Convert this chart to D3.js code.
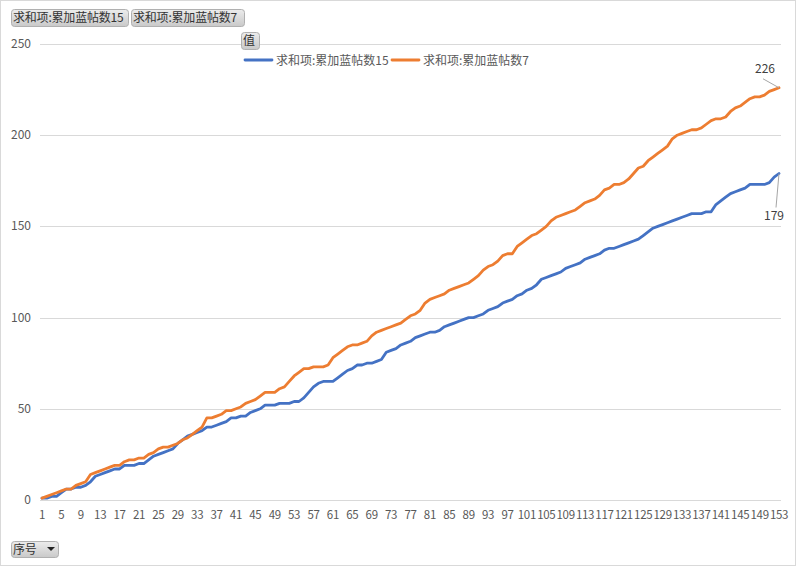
<!DOCTYPE html>
<html>
<head>
<meta charset="utf-8">
<script src="https://cdn.jsdelivr.net/npm/d3@7"></script>
<style>
  body { margin: 0; background: #fff; }
  svg { display: block; font-family: "Noto Sans CJK SC", "Noto Sans", sans-serif; }
</style>
</head>
<body>
<div id="chart"></div>
<script>
const seriesNames = ["求和项:累加蓝帖数15", "求和项:累加蓝帖数7"];
const seriesColors = ["#4472c4", "#ed7d31"];
const yTicks = [0, 50, 100, 150, 200, 250];

const blue15 = [
  1, 1, 2, 2, 4, 6, 6, 7, 7, 8, 10, 13, 14, 15, 16, 17, 17, 19, 19, 19,
  20, 20, 22, 24, 25, 26, 27, 28, 31, 33, 35, 36, 37, 38, 40, 40, 41, 42, 43, 45,
  45, 46, 46, 48, 49, 50, 52, 52, 52, 53, 53, 53, 54, 54, 56, 59, 62, 64, 65, 65,
  65, 67, 69, 71, 72, 74, 74, 75, 75, 76, 77, 81, 82, 83, 85, 86, 87, 89, 90, 91,
  92, 92, 93, 95, 96, 97, 98, 99, 100, 100, 101, 102, 104, 105, 106, 108, 109, 110, 112, 113,
  115, 116, 118, 121, 122, 123, 124, 125, 127, 128, 129, 130, 132, 133, 134, 135, 137, 138, 138, 139,
  140, 141, 142, 143, 145, 147, 149, 150, 151, 152, 153, 154, 155, 156, 157, 157, 157, 158, 158, 162,
  164, 166, 168, 169, 170, 171, 173, 173, 173, 173, 174, 177, 179
];

const orange7 = [
  1, 2, 3, 4, 5, 6, 6, 8, 9, 10, 14, 15, 16, 17, 18, 19, 19, 21, 22, 22,
  23, 23, 25, 26, 28, 29, 29, 30, 31, 33, 34, 36, 38, 40, 45, 45, 46, 47, 49, 49,
  50, 51, 53, 54, 55, 57, 59, 59, 59, 61, 62, 65, 68, 70, 72, 72, 73, 73, 73, 74,
  78, 80, 82, 84, 85, 85, 86, 87, 90, 92, 93, 94, 95, 96, 97, 99, 101, 102, 104, 108,
  110, 111, 112, 113, 115, 116, 117, 118, 119, 121, 123, 126, 128, 129, 131, 134, 135, 135, 139, 141,
  143, 145, 146, 148, 150, 153, 155, 156, 157, 158, 159, 161, 163, 164, 165, 167, 170, 171, 173, 173,
  174, 176, 179, 182, 183, 186, 188, 190, 192, 194, 198, 200, 201, 202, 203, 203, 204, 206, 208, 209,
  209, 210, 213, 215, 216, 218, 220, 221, 221, 222, 224, 225, 226
];

const categories = d3.range(1, blue15.length + 1);
const xTickLabels = categories.filter(d => (d - 1) % 4 === 0);

const width = 796, height = 566;
const svg = d3.select("#chart").append("svg")
  .attr("width", width)
  .attr("height", height);

svg.append("rect")
  .attr("x", 0.5).attr("y", 0.5)
  .attr("width", width - 1).attr("height", height - 1)
  .attr("fill", "#fff")
  .attr("stroke", "#d9d9d9");

const x = d3.scaleLinear().domain([1, categories.length]).range([42, 779]);
const y = d3.scaleLinear().domain([0, 250]).range([500, 44]);

// gridlines
svg.append("g")
  .selectAll("line")
  .data(yTicks)
  .join("line")
  .attr("x1", 40).attr("x2", 781)
  .attr("y1", d => Math.round(y(d)) + 0.5)
  .attr("y2", d => Math.round(y(d)) + 0.5)
  .attr("stroke", "#d9d9d9");

// y labels
svg.append("g")
  .selectAll("text")
  .data(yTicks)
  .join("text")
  .attr("x", 31)
  .attr("y", d => y(d) + 4)
  .attr("text-anchor", "end")
  .attr("font-size", 12)
  .attr("fill", "#595959")
  .text(d => d);

// x labels
svg.append("g")
  .selectAll("text")
  .data(xTickLabels)
  .join("text")
  .attr("x", d => x(d))
  .attr("y", 519)
  .attr("text-anchor", "middle")
  .attr("font-size", 11.5)
  .attr("letter-spacing", -0.3)
  .attr("fill", "#595959")
  .text(d => d);

const line = d3.line()
  .x((d, i) => x(categories[i]))
  .y(d => y(d));

[blue15, orange7].forEach((data, k) => {
  svg.append("path")
    .datum(data)
    .attr("fill", "none")
    .attr("stroke", seriesColors[k])
    .attr("stroke-width", 2.8)
    .attr("stroke-linejoin", "round")
    .attr("stroke-linecap", "round")
    .attr("d", line);
});

// data labels for last points
const lastI = categories.length - 1;
const lx = x(categories[lastI]);
const lo = y(orange7[lastI]);
const lb = y(blue15[lastI]);

svg.append("line")
  .attr("x1", lx).attr("y1", lo)
  .attr("x2", lx - 16).attr("y2", lo - 9)
  .attr("stroke", "#a6a6a6");
svg.append("text")
  .attr("x", lx - 14).attr("y", lo - 15)
  .attr("text-anchor", "middle")
  .attr("font-size", 12)
  .attr("fill", "#404040")
  .text(orange7[lastI]);

svg.append("line")
  .attr("x1", lx).attr("y1", lb)
  .attr("x2", lx - 3).attr("y2", lb + 34)
  .attr("stroke", "#a6a6a6");
svg.append("text")
  .attr("x", lx - 5).attr("y", lb + 46)
  .attr("text-anchor", "middle")
  .attr("font-size", 12)
  .attr("fill", "#404040")
  .text(blue15[lastI]);

// legend
const legend = svg.append("g");
const legendX = [245, 392];
seriesNames.forEach((name, k) => {
  legend.append("line")
    .attr("x1", legendX[k]).attr("x2", legendX[k] + 27)
    .attr("y1", 60).attr("y2", 60)
    .attr("stroke", seriesColors[k])
    .attr("stroke-width", 2.8)
    .attr("stroke-linecap", "round");
  legend.append("text")
    .attr("x", legendX[k] + 31)
    .attr("y", 64.5)
    .attr("font-size", 12)
    .attr("fill", "#595959")
    .text(name);
});

// pivot field buttons
const defs = svg.append("defs");
const grad = defs.append("linearGradient")
  .attr("id", "btn").attr("x1", 0).attr("y1", 0).attr("x2", 0).attr("y2", 1);
grad.append("stop").attr("offset", "0%").attr("stop-color", "#ececec");
grad.append("stop").attr("offset", "100%").attr("stop-color", "#c9c9c9");

function button(bx, by, bw, bh, label, dropdown) {
  const g = svg.append("g");
  g.append("rect")
    .attr("x", bx + 0.5).attr("y", by + 0.5)
    .attr("width", bw).attr("height", bh)
    .attr("rx", 3)
    .attr("fill", "url(#btn)")
    .attr("stroke", "#b0b0b0");
  g.append("text")
    .attr("x", bx + 2).attr("y", by + bh / 2 + 4.5)
    .attr("font-size", 12)
    .attr("letter-spacing", -0.2)
    .attr("fill", "#333")
    .text(label);
  if (dropdown) {
    const cx = bx + bw - 7, cy = by + bh / 2 - 1;
    g.append("path")
      .attr("d", `M${cx - 4},${cy - 1}L${cx + 4},${cy - 1}L${cx},${cy + 3}Z`)
      .attr("fill", "#222");
  }
}

button(11, 9, 117, 17, "求和项:累加蓝帖数15");
button(131, 9, 113, 17, "求和项:累加蓝帖数7");
button(241, 32, 18, 17, "值");
button(11, 541, 47, 16, "序号", true);
</script>
</body>
</html>
